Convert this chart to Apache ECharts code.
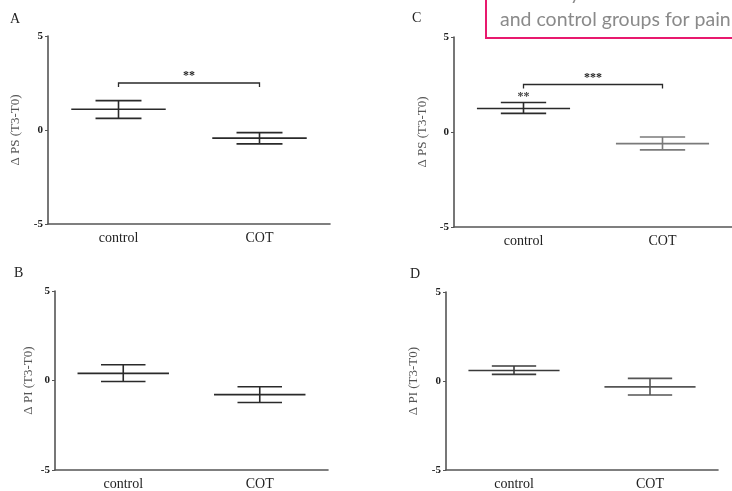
<!DOCTYPE html>
<html><head><meta charset="utf-8">
<script src="https://cdn.jsdelivr.net/npm/echarts@6/dist/echarts.min.js"></script>
<style>html,body{margin:0;padding:0;background:#fff}#c{width:732px;height:491px}</style>
</head><body><div id="c"></div>
<script>
const categories = ['control', 'COT'];
const yMin = -5, yMax = 5, yInterval = 5;

// Panel A: Δ PS
const meanA = [1.10, -0.43];
const lowA  = [0.62, -0.74];
const highA = [1.56, -0.14];
// Panel B: Δ PI
const meanB = [0.40, -0.79];
const lowB  = [-0.06, -1.23];
const highB = [0.88, -0.35];
// Panel C: Δ PS
const meanC = [1.24, -0.61];
const lowC  = [0.98, -0.94];
const highC = [1.55, -0.26];
// Panel D: Δ PI
const meanD = [0.59, -0.33];
const lowD  = [0.37, -0.79];
const highD = [0.84, 0.15];

// significance brackets: [fromIndex, toIndex, level, label]
const bracketA = [[0, 1, 2.5, '**']];
const bracketC = [[0, 1, 2.5, '***']];
// single-group marks: [index, level, label]
const starC = [[0, 1.83, '**']];

const panelLetters = ['A', 'B', 'C', 'D'];
const yTitles = ['Δ PS (T3-T0)', 'Δ PI (T3-T0)', 'Δ PS (T3-T0)', 'Δ PI (T3-T0)'];

const serif = '"Liberation Serif", "DejaVu Serif", serif';
const lineCol = '#2a2a2a';
const axisCol = '#555';

const grids = [
  {left: 48, top: 36, width: 282, height: 188},
  {left: 55, top: 291, width: 273, height: 182},
  {left: 454, top: 37, width: 282, height: 190},
  {left: 446, top: 292, width: 272, height: 182}
];
const nameGaps = [26, 20, 25, 26];

function mk(mean, lo, hi) {
  return categories.map((c, i) => [i, mean[i], lo[i], hi[i]]);
}
const panels = [mk(meanA, lowA, highA), mk(meanB, lowB, highB), mk(meanC, lowC, highC), mk(meanD, lowD, highD)];
const panelColors = [[lineCol, lineCol], [lineCol, lineCol], [lineCol, '#7a7a7a'], ['#3a3a3a', '#555']];

function errRender(colors) {
  return function (params, api) {
    const x = api.value(0);
    const pm = api.coord([x, api.value(1)]);
    const pl = api.coord([x, api.value(2)]);
    const ph = api.coord([x, api.value(3)]);
    const band = api.size([1, 0])[0];
    const hw = band * 0.335, cw = band * 0.163;
    const st = {stroke: colors[params.dataIndex], lineWidth: 1.6};
    return {type: 'group', children: [
      {type: 'line', shape: {x1: pm[0] - hw, y1: pm[1], x2: pm[0] + hw, y2: pm[1]}, style: st},
      {type: 'line', shape: {x1: pl[0], y1: pl[1], x2: ph[0], y2: ph[1]}, style: st},
      {type: 'line', shape: {x1: ph[0] - cw, y1: ph[1], x2: ph[0] + cw, y2: ph[1]}, style: st},
      {type: 'line', shape: {x1: pl[0] - cw, y1: pl[1], x2: pl[0] + cw, y2: pl[1]}, style: st}
    ]};
  };
}

function bracketRender(params, api) {
  const a = api.coord([api.value(0), api.value(2)]);
  const b = api.coord([api.value(1), api.value(2)]);
  const label = bracketsData[params.seriesIndex][params.dataIndex][3];
  return {type: 'group', children: [
    {type: 'polyline', shape: {points: [[a[0], a[1] + 4], [a[0], a[1]], [b[0], b[1]], [b[0], b[1] + 4]]},
     style: {stroke: lineCol, lineWidth: 1.3, fill: null}},
    {type: 'text', style: {text: label, x: (a[0] + b[0]) / 2, y: a[1] - 1, align: 'center', verticalAlign: 'bottom',
     font: 'bold 12px ' + serif, fill: '#222'}}
  ]};
}
function starRender(params, api) {
  const p = api.coord([api.value(0), api.value(1)]);
  const label = starC[params.dataIndex][2];
  return {type: 'text', style: {text: label, x: p[0], y: p[1], align: 'center', verticalAlign: 'middle',
    font: 'bold 12px ' + serif, fill: '#444'}};
}

const bracketsData = {};
const xAxis = [], yAxis = [], series = [];
grids.forEach((g, i) => {
  xAxis.push({type: 'category', gridIndex: i, data: categories, boundaryGap: true,
    axisLine: {onZero: false, lineStyle: {color: axisCol, width: 1.6}},
    axisTick: {alignWithLabel: true, length: 3, lineStyle: {color: axisCol}},
    axisLabel: {color: '#222', fontFamily: serif, fontSize: 14, margin: 7},
    splitLine: {show: false}});
  yAxis.push({type: 'value', gridIndex: i, min: yMin, max: yMax, interval: yInterval,
    name: yTitles[i], nameLocation: 'middle', nameGap: nameGaps[i], nameRotate: 90,
    nameTextStyle: {color: '#555', fontFamily: serif, fontSize: 13},
    axisLine: {show: true, onZero: false, lineStyle: {color: axisCol, width: 1.6}},
    axisTick: {show: true, length: 3, lineStyle: {color: axisCol}},
    axisLabel: {color: '#222', fontFamily: serif, fontSize: 11, fontWeight: 'bold', margin: 5},
    splitLine: {show: false}});
  series.push({type: 'custom', xAxisIndex: i, yAxisIndex: i, data: panels[i],
    renderItem: errRender(panelColors[i]), silent: true, clip: false});
});
bracketsData[series.length] = bracketA;
series.push({type: 'custom', xAxisIndex: 0, yAxisIndex: 0, data: bracketA, renderItem: bracketRender, silent: true});
bracketsData[series.length] = bracketC;
series.push({type: 'custom', xAxisIndex: 2, yAxisIndex: 2, data: bracketC, renderItem: bracketRender, silent: true});
series.push({type: 'custom', xAxisIndex: 2, yAxisIndex: 2, data: starC, renderItem: starRender, silent: true});

const letterPos = [[10, 12], [14, 266], [412, 11], [410, 267]];
const graphic = panelLetters.map((t, i) => ({type: 'text', left: letterPos[i][0], top: letterPos[i][1],
  style: {text: t, font: '14px ' + serif, fill: '#222'}}));
graphic.push({type: 'rect', shape: {x: 486, y: -10, width: 300, height: 48},
  style: {fill: '#fff', stroke: '#e8196e', lineWidth: 2}, z: 10});
graphic.push({type: 'text', x: 500, y: 4, style: {text: 'Summary of the intervention group', font: '19.5px Lato, "Noto Sans", sans-serif',
  fill: '#8a8a8a', verticalAlign: 'bottom'}, z: 11});
graphic.push({type: 'text', x: 500, y: 30, style: {text: 'and control groups for pain', font: '19.5px Lato, "Noto Sans", sans-serif',
  fill: '#8a8a8a', verticalAlign: 'bottom'}, z: 11});

const chart = echarts.init(document.getElementById('c'), null, {renderer: 'canvas'});
chart.setOption({animation: false, backgroundColor: '#fff', grid: grids, xAxis, yAxis, series, graphic});
</script></body></html>
